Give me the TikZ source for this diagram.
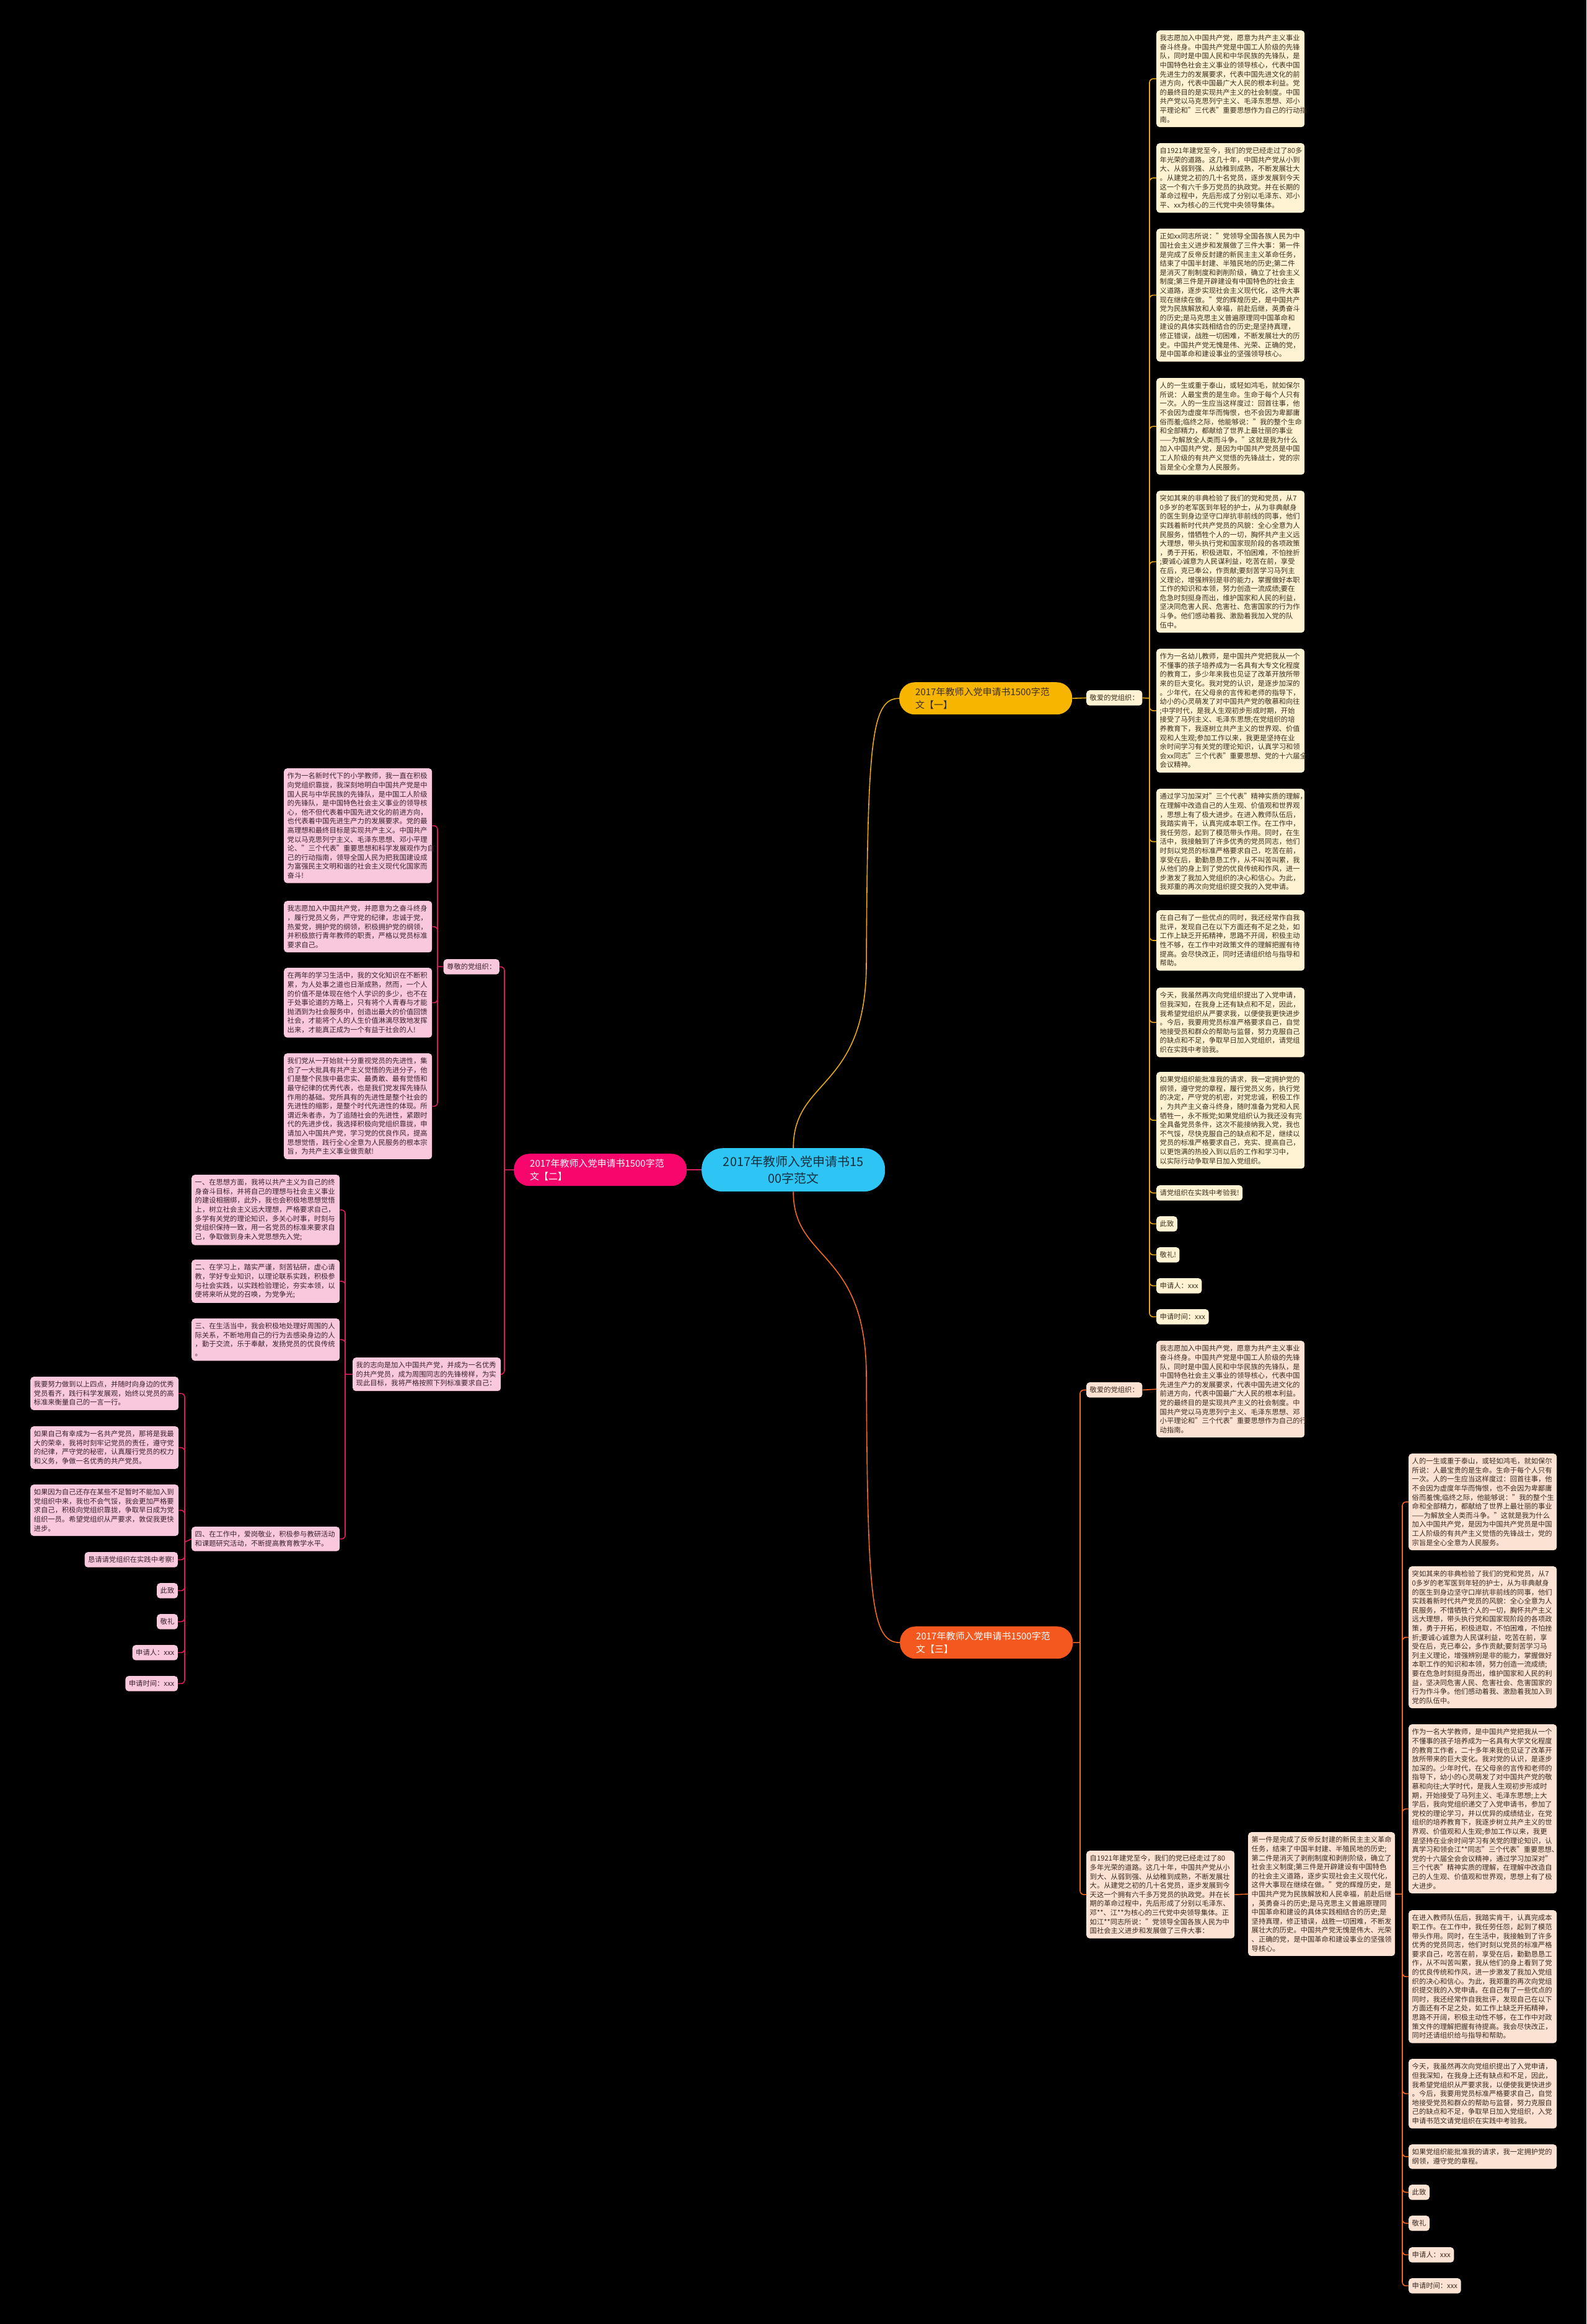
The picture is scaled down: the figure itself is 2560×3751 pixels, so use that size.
\documentclass[tikz,border=0pt]{standalone}
\usepackage{fontspec}
\setmainfont{Noto Sans CJK SC}
\usetikzlibrary{calc}
\definecolor{yfill}{HTML}{F7B500}
\definecolor{yline}{HTML}{E9A912}
\definecolor{cream}{HTML}{FFF3D4}
\definecolor{ytext}{HTML}{3B2F1E}
\definecolor{pfill}{HTML}{F9066C}
\definecolor{pline}{HTML}{D91E5F}
\definecolor{pleaf}{HTML}{F9C8DC}
\definecolor{ptext}{HTML}{3A2230}
\definecolor{ofill}{HTML}{F5581F}
\definecolor{oline}{HTML}{F26A21}
\definecolor{oleaf}{HTML}{FCE2D3}
\definecolor{otext}{HTML}{3B2A22}
\definecolor{cfill}{HTML}{2EC4F4}
\definecolor{ctext}{HTML}{14303F}
\newcommand\leaffont{\fontsize{11.3}{14.6}\selectfont}
\newcommand\pillfont{\fontsize{15}{21}\selectfont}
\newcommand\rootfont{\fontsize{20}{27}\selectfont}
\tikzset{
 leaf/.style={rounded corners=5pt, anchor=north west, inner xsep=5.5pt, inner ysep=7pt, align=left, font=\leaffont},
 leafY/.style={leaf, fill=cream, text=ytext},
 leafP/.style={leaf, fill=pleaf, text=ptext},
 leafO/.style={leaf, fill=oleaf, text=otext},
 pill/.style={rounded corners=25pt, anchor=north west, inner xsep=0pt, inner ysep=0pt, align=left, font=\pillfont, text width=227pt, minimum width=279pt, minimum height=52pt},
 linkY/.style={draw=yline, line width=1.6pt},
 linkP/.style={draw=pline, line width=1.6pt},
 linkO/.style={draw=oline, line width=1.6pt},
 bendY/.style={linkY, rounded corners=6pt},
 bendP/.style={linkP, rounded corners=6pt},
 bendO/.style={linkO, rounded corners=6pt},
}
\begin{document}
\begin{tikzpicture}[x=1pt,y=-1pt]
\fill[black] (0,0) rectangle (2560,3751);
\useasboundingbox (0,0) rectangle (2560,3751);

% ---------------- root ----------------
\node[fill=cfill, rounded corners=34pt, anchor=north west, minimum width=296pt, minimum height=70pt, align=center, text=ctext, font=\rootfont, inner sep=0pt] (root) at (1132,1853) {2017年教师入党申请书15\\00字范文};

% ---------------- branch 1 ----------------
\node[pill, fill=yfill, text=ytext] (p1) at (1451,1101) {2017年教师入党申请书1500字范\\文【一】};
\node[leafY] (l1) at (1753,1114) {敬爱的党组织：};
\coordinate (s1) at (1855,1127);

\node[leafY, text width=228pt] (a1) at (1866,49) {我志愿加入中国共产党，愿意为共产主义事业\\奋斗终身。中国共产党是中国工人阶级的先锋\\队，同时是中国人民和中华民族的先锋队，是\\中国特色社会主义事业的领导核心，代表中国\\先进生力的发展要求，代表中国先进文化的前\\进方向，代表中国最广大人民的根本利益。党\\的最终目的是实现共产主义的社会制度。中国\\共产党以马克思列宁主义、毛泽东思想、邓小\\平理论和"三代表"重要思想作为自己的行动指\\南。};
\node[leafY, text width=228pt] (a2) at (1866,231) {自1921年建党至今，我们的党已经走过了80多\\年光荣的道路。这几十年，中国共产党从小到\\大、从弱到强、从幼稚到成熟，不断发展壮大\\。从建党之初的几十名党员，逐步发展到今天\\这一个有六千多万党员的执政党。并在长期的\\革命过程中，先后形成了分别以毛泽东、邓小\\平、xx为核心的三代党中央领导集体。};
\node[leafY, text width=228pt] (a3) at (1866,369) {正如xx同志所说："党领导全国各族人民为中\\国社会主义进步和发展做了三件大事：第一件\\是完成了反帝反封建的新民主主义革命任务，\\结束了中国半封建、半殖民地的历史;第二件\\是消灭了削制度和剥削阶级，确立了社会主义\\制度;第三件是开辟建设有中国特色的社会主\\义道路，逐步实现社会主义现代化，这件大事\\现在继续在做。"党的辉煌历史，是中国共产\\党为民族解放和人幸福，前赴后继，英勇奋斗\\的历史;是马克思主义普遍原理同中国革命和\\建设的具体实践相结合的历史;是坚持真理，\\修正错误，战胜一切困难，不断发展壮大的历\\史。中国共产党无愧是伟、光荣、正确的党，\\是中国革命和建设事业的坚强领导核心。};
\node[leafY, text width=228pt] (a4) at (1866,610) {人的一生或重于泰山，或轻如鸿毛，就如保尔\\所说：人最宝贵的是生命。生命于每个人只有\\一次。人的一生应当这样度过：回首往事，他\\不会因为虚度年华而悔恨，也不会因为卑鄙庸\\俗而羞;临终之际，他能够说："我的整个生命\\和全部精力，都献给了世界上最壮丽的事业\\——为解放全人类而斗争。"这就是我为什么\\加入中国共产党，是因为中国共产党员是中国\\工人阶级的有共产义觉悟的先锋战士，党的宗\\旨是全心全意为人民服务。};
\node[leafY, text width=228pt] (a5) at (1866,792) {突如其来的非典检验了我们的党和党员，从7\\0多岁的老军医到年轻的护士，从为非典献身\\的医生到身边坚守口岸抗非前线的同事，他们\\实践着新时代共产党员的风貌：全心全意为人\\民服务，惜牺牲个人的一切，胸怀共产主义远\\大理想，带头执行党和国家现阶段的各项政策\\，勇于开拓，积极进取，不怕困难，不怕挫折\\;要诚心诚意为人民谋利益，吃苦在前，享受\\在后，克已奉公，作贡献;要刻苦学习马列主\\义理论，增强辨别是非的能力，掌握做好本职\\工作的知识和本领，努力创造一流成绩;要在\\危急时刻挺身而出，维护国家和人民的利益，\\坚决同危害人民、危害社、危害国家的行为作\\斗争。他们感动着我、激励着我加入党的队\\伍中。};
\node[leafY, text width=228pt] (a6) at (1866,1047) {作为一名幼儿教师，是中国共产党把我从一个\\不懂事的孩子培养成为一名具有大专文化程度\\的教育工，多少年来我也见证了改革开放所带\\来的巨大变化。我对党的认识，是逐步加深的\\。少年代，在父母亲的言传和老师的指导下，\\幼小的心灵萌发了对中国共产党的敬慕和向往\\;中学时代，是我人生观初步形成时期，开始\\接受了马列主义、毛泽东思想;在党组织的培\\养教育下，我逐树立共产主义的世界观、价值\\观和人生观;参加工作以来，我更是坚持在业\\余时间学习有关党的理论知识，认真学习和领\\会xx同志"三个代表"重要思想、党的十六届全\\会议精神。};
\node[leafY, text width=228pt] (a7) at (1866,1273) {通过学习加深对"三个代表"精神实质的理解，\\在理解中改造自己的人生观、价值观和世界观\\，思想上有了极大进步。在进入教师队伍后，\\我踏实肯干，认真完成本职工作。在工作中，\\我任劳怨，起到了模范带头作用。同时，在生\\活中，我接触到了许多优秀的党员同志，他们\\时刻以党员的标准严格要求自己，吃苦在前，\\享受在后，勤勤恳恳工作，从不叫苦叫累，我\\从他们的身上到了党的优良传统和作风，进一\\步激发了我加入党组织的决心和信心。为此，\\我郑重的再次向党组织提交我的入党申请。};
\node[leafY, text width=228pt] (a8) at (1866,1469) {在自己有了一些优点的同时，我还经常作自我\\批评，发现自己在以下方面还有不足之处，如\\工作上缺乏开拓精神，思路不开阔，积极主动\\性不够，在工作中对政策文件的理解把握有待\\提高。会尽快改正，同时还请组织给与指导和\\帮助。};
\node[leafY, text width=228pt] (a9) at (1866,1594) {今天，我虽然再次向党组织提出了入党申请，\\但我深知，在我身上还有缺点和不足，因此，\\我希望党组织从严要求我，以便使我更快进步\\。今后，我要用党员标准严格要求自己，自觉\\地接受员和群众的帮助与监督，努力克服自己\\的缺点和不足，争取早日加入党组织，请党组\\织在实践中考验我。};
\node[leafY, text width=228pt] (a10) at (1866,1730) {如果党组织能批准我的请求，我一定拥护党的\\纲领，遵守党的章程，履行党员义务，执行党\\的决定，严守党的机密，对党忠诚，积极工作\\，为共产主义奋斗终身，随时准备为党和人民\\牺牲一，永不叛党;如果党组织认为我还没有完\\全具备党员条件，这次不能接纳我入党，我也\\不气馁，尽快克服自己的缺点和不足，继续以\\党员的标准严格要求自己，充实、提高自己，\\以更饱满的热投入到以后的工作和学习中，\\以实际行动争取早日加入党组织。};
\node[leafY] (a11) at (1866,1913) {请党组织在实践中考验我!};
\node[leafY] (a12) at (1866,1963) {此致};
\node[leafY] (a13) at (1866,2013) {敬礼!};
\node[leafY] (a14) at (1866,2063) {申请人：xxx};
\node[leafY] (a15) at (1866,2113) {申请时间：xxx};

\draw[linkY] (root.north) .. controls (1280,1740) and (1396,1760) .. (1398,1560) .. controls (1400,1200) and (1405,1127) .. (p1.west);
\draw[linkY] (p1.east) -- (l1.west);
\draw[linkY] (l1.east) -- (s1);
\foreach \n in {a1,a2,a3,a4,a5,a6,a7,a8,a9,a10,a11,a12,a13,a14,a15}
  \draw[bendY] (s1) |- (\n.west);

% ---------------- branch 2 ----------------
\node[pill, fill=pfill, text=white] (p2) at (829,1862) {2017年教师入党申请书1500字范\\文【二】};
\node[leafP, anchor=north east] (l2) at (806,1548) {尊敬的党组织：};
\coordinate (s2) at (814,1888);
\coordinate (s3) at (706,1560);

\node[leafP, text width=228pt] (b1) at (458,1240) {作为一名新时代下的小学教师，我一直在积极\\向党组织靠拢，我深刻地明白中国共产党是中\\国人民与中华民族的先锋队，是中国工人阶级\\的先锋队，是中国特色社会主义事业的领导核\\心，他不但代表着中国先进文化的前进方向，\\也代表着中国先进生产力的发展要求。党的最\\高理想和最终目标是实现共产主义。中国共产\\党以马克思列宁主义、毛泽东思想、邓小平理\\论、"三个代表"重要思想和科学发展观作为自\\己的行动指南，领导全国人民为把我国建设成\\为富强民主文明和谐的社会主义现代化国家而\\奋斗!};
\node[leafP, text width=228pt] (b2) at (458,1454) {我志愿加入中国共产党，并愿意为之奋斗终身\\，履行党员义务，严守党的纪律，忠诚于党，\\热爱党，拥护党的纲领，积极拥护党的纲领，\\并积极旅行青年教师的职责，严格以党员标准\\要求自己。};
\node[leafP, text width=228pt] (b3) at (458,1562) {在两年的学习生活中，我的文化知识在不断积\\累，为人处事之道也日渐成熟，然而，一个人\\的价值不是体现在他个人学识的多少，也不在\\于处事论道的方略上，只有将个人青春与才能\\抛洒到为社会服务中，创造出最大的价值回馈\\社会，才能将个人的人生价值淋漓尽致地发挥\\出来，才能真正成为一个有益于社会的人!};
\node[leafP, text width=228pt] (b4) at (458,1700) {我们党从一开始就十分重视党员的先进性，集\\合了一大批具有共产主义觉悟的先进分子，他\\们是整个民族中最忠实、最勇敢、最有觉悟和\\最守纪律的优秀代表，也是我们党发挥先锋队\\作用的基础。党所具有的先进性是整个社会的\\先进性的缩影，是整个时代先进性的体现。所\\谓近朱者赤，为了追随社会的先进性，紧跟时\\代的先进步伐，我选择积极向党组织靠拢，申\\请加入中国共产党，学习党的优良作风，提高\\思想觉悟，践行全心全意为人民服务的根本宗\\旨，为共产主义事业做贡献!};

\node[leafP, text width=228pt] (g) at (569,2191) {我的志向是加入中国共产党，并成为一名优秀\\的共产党员，成为周围同志的先锋榜样，为实\\现此目标，我将严格按照下列标准要求自己：};
\coordinate (s4) at (557,2218);
\node[leafP, text width=228pt] (c1) at (309,1896) {一、在思想方面，我将以共产主义为自己的终\\身奋斗目标，并将自己的理想与社会主义事业\\的建设相捆绑，此外，我也会积极地思想觉悟\\上，树立社会主义远大理想，严格要求自己，\\多学有关党的理论知识，多关心时事，时刻与\\党组织保持一致，用一名党员的标准来要求自\\己，争取做到身未入党思想先入党;};
\node[leafP, text width=228pt] (c2) at (309,2033) {二、在学习上，踏实严谨，刻苦钻研，虚心请\\教，学好专业知识，以理论联系实践，积极参\\与社会实践，以实践检验理论，夯实本领，以\\便将来听从党的召唤，为党争光;};
\node[leafP, text width=228pt] (c3) at (309,2128) {三、在生活当中，我会积极地处理好周围的人\\际关系，不断地用自己的行为去感染身边的人\\，勤于交流，乐于奉献，发扬党员的优良传统\\。};
\node[leafP, text width=228pt] (c4) at (309,2464) {四、在工作中，爱岗敬业，积极参与教研活动\\和课题研究活动，不断提高教育教学水平。};
\coordinate (s5) at (298,2489);
\node[leafP, text width=228pt] (d1) at (49,2222) {我要努力做到以上四点，并随时向身边的优秀\\党员看齐，践行科学发展观，始终以党员的高\\标准来衡量自己的一言一行。};
\node[leafP, text width=228pt] (d2) at (49,2302) {如果自己有幸成为一名共产党员，那将是我最\\大的荣幸，我将时刻牢记党员的责任，遵守党\\的纪律，严守党的秘密，认真履行党员的权力\\和义务，争做一名优秀的共产党员。};
\node[leafP, text width=228pt] (d3) at (49,2396) {如果因为自己还存在某些不足暂时不能加入到\\党组织中来，我也不会气馁，我会更加严格要\\求自己，积极向党组织靠拢，争取早日成为党\\组织一员。希望党组织从严要求，敦促我更快\\进步。};
\node[leafP, anchor=north east] (d4) at (287,2505) {恳请请党组织在实践中考察!};
\node[leafP, anchor=north east] (d5) at (287,2555) {此致};
\node[leafP, anchor=north east] (d6) at (287,2605) {敬礼};
\node[leafP, anchor=north east] (d7) at (287,2655) {申请人：xxx};
\node[leafP, anchor=north east] (d8) at (287,2705) {申请时间：xxx};

\draw[linkP] (root.west) -- (p2.east);
\draw[linkP] (p2.west) -- (s2);
\draw[bendP] (s2) |- (l2.east);
\draw[bendP] (s2) |- (g.east);
\draw[linkP] (l2.west) -- (s3);
\foreach \n in {b1,b2,b3,b4} \draw[bendP] (s3) |- (\n.east);
\draw[linkP] (g.west) -- (s4);
\foreach \n in {c1,c2,c3,c4} \draw[bendP] (s4) |- (\n.east);
\draw[linkP] (c4.west) -- (s5);
\foreach \n in {d1,d2,d3,d4,d5,d6,d7,d8} \draw[bendP] (s5) |- (\n.east);

% ---------------- branch 3 ----------------
\node[pill, fill=ofill, text=white] (p3) at (1452,2625) {2017年教师入党申请书1500字范\\文【三】};
\coordinate (s6) at (1743,2651);
\node[leafO] (l3) at (1753,2231) {敬爱的党组织：};
\node[leafO, text width=228pt] (e1) at (1866,2164) {我志愿加入中国共产党，愿意为共产主义事业\\奋斗终身。中国共产党是中国工人阶级的先锋\\队，同时是中国人民和中华民族的先锋队，是\\中国特色社会主义事业的领导核心，代表中国\\先进生产力的发展要求，代表中国先进文化的\\前进方向，代表中国最广大人民的根本利益。\\党的最终目的是实现共产主义的社会制度。中\\国共产党以马克思列宁主义、毛泽东思想、邓\\小平理论和"三个代表"重要思想作为自己的行\\动指南。};
\node[leafO, text width=228pt] (e2) at (1753,2987) {自1921年建党至今，我们的党已经走过了80\\多年光荣的道路。这几十年，中国共产党从小\\到大、从弱到强、从幼稚到成熟，不断发展壮\\大。从建党之初的几十名党员，逐步发展到今\\天这一个拥有六千多万党员的执政党。并在长\\期的革命过程中，先后形成了分别以毛泽东、\\邓**、江**为核心的三代党中央领导集体。正\\如江**同志所说："党领导全国各族人民为中\\国社会主义进步和发展做了三件大事：};
\node[leafO, text width=226pt] (e3) at (2014,2957) {第一件是完成了反帝反封建的新民主主义革命\\任务，结束了中国半封建、半殖民地的历史;\\第二件是消灭了剥削制度和剥削阶级，确立了\\社会主义制度;第三件是开辟建设有中国特色\\的社会主义道路，逐步实现社会主义现代化，\\这件大事现在继续在做。"党的辉煌历史，是\\中国共产党为民族解放和人民幸福，前赴后继\\，英勇奋斗的历史;是马克思主义普遍原理同\\中国革命和建设的具体实践相结合的历史;是\\坚持真理，修正错误，战胜一切困难，不断发\\展壮大的历史。中国共产党无愧是伟大、光荣\\、正确的党，是中国革命和建设事业的坚强领\\导核心。};
\coordinate (s7) at (2263,3057);
\node[leafO, text width=228pt] (f1) at (2273,2346) {人的一生或重于泰山，或轻如鸿毛，就如保尔\\所说：人最宝贵的是生命。生命于每个人只有\\一次。人的一生应当这样度过：回首往事，他\\不会因为虚度年华而悔恨，也不会因为卑鄙庸\\俗而羞愧;临终之际，他能够说："我的整个生\\命和全部精力，都献给了世界上最壮丽的事业\\——为解放全人类而斗争。"这就是我为什么\\加入中国共产党，是因为中国共产党员是中国\\工人阶级的有共产主义觉悟的先锋战士，党的\\宗旨是全心全意为人民服务。};
\node[leafO, text width=228pt] (f2) at (2273,2528) {突如其来的非典检验了我们的党和党员，从7\\0多岁的老军医到年轻的护士，从为非典献身\\的医生到身边坚守口岸抗非前线的同事，他们\\实践着新时代共产党员的风貌：全心全意为人\\民服务，不惜牺牲个人的一切，胸怀共产主义\\远大理想，带头执行党和国家现阶段的各项政\\策，勇于开拓，积极进取，不怕困难，不怕挫\\折;要诚心诚意为人民谋利益，吃苦在前，享\\受在后，克已奉公，多作贡献;要刻苦学习马\\列主义理论，增强辨别是非的能力，掌握做好\\本职工作的知识和本领，努力创造一流成绩;\\要在危急时刻挺身而出，维护国家和人民的利\\益，坚决同危害人民、危害社会、危害国家的\\行为作斗争。他们感动着我、激励着我加入到\\党的队伍中。};
\node[leafO, text width=228pt] (f3) at (2273,2783) {作为一名大学教师，是中国共产党把我从一个\\不懂事的孩子培养成为一名具有大学文化程度\\的教育工作者，二十多年来我也见证了改革开\\放所带来的巨大变化。我对党的认识，是逐步\\加深的。少年时代，在父母亲的言传和老师的\\指导下，幼小的心灵萌发了对中国共产党的敬\\慕和向往;大学时代，是我人生观初步形成时\\期，开始接受了马列主义、毛泽东思想;上大\\学后，我向党组织递交了入党申请书，参加了\\党校的理论学习，并以优异的成绩结业，在党\\组织的培养教育下，我逐步树立共产主义的世\\界观、价值观和人生观;参加工作以来，我更\\是坚持在业余时间学习有关党的理论知识，认\\真学习和领会江**同志"三个代表"重要思想、\\党的十六届全会会议精神，通过学习加深对"\\三个代表"精神实质的理解，在理解中改造自\\己的人生观、价值观和世界观，思想上有了极\\大进步。};
\node[leafO, text width=228pt] (f4) at (2273,3083) {在进入教师队伍后，我踏实肯干，认真完成本\\职工作。在工作中，我任劳任怨，起到了模范\\带头作用。同时，在生活中，我接触到了许多\\优秀的党员同志，他们时刻以党员的标准严格\\要求自己，吃苦在前，享受在后，勤勤恳恳工\\作，从不叫苦叫累，我从他们的身上看到了党\\的优良传统和作风，进一步激发了我加入党组\\织的决心和信心。为此，我郑重的再次向党组\\织提交我的入党申请。在自己有了一些优点的\\同时，我还经常作自我批评，发现自己在以下\\方面还有不足之处，如工作上缺乏开拓精神，\\思路不开阔，积极主动性不够，在工作中对政\\策文件的理解把握有待提高。我会尽快改正，\\同时还请组织给与指导和帮助。};
\node[leafO, text width=228pt] (f5) at (2273,3323) {今天，我虽然再次向党组织提出了入党申请，\\但我深知，在我身上还有缺点和不足，因此，\\我希望党组织从严要求我，以便使我更快进步\\。今后，我要用党员标准严格要求自己，自觉\\地接受党员和群众的帮助与监督，努力克服自\\己的缺点和不足，争取早日加入党组织，入党\\申请书范文请党组织在实践中考验我。};
\node[leafO, text width=228pt] (f6) at (2273,3461) {如果党组织能批准我的请求，我一定拥护党的\\纲领，遵守党的章程。};
\node[leafO] (f7) at (2273,3526) {此致};
\node[leafO] (f8) at (2273,3576) {敬礼};
\node[leafO] (f9) at (2273,3627) {申请人：xxx};
\node[leafO] (f10) at (2273,3677) {申请时间：xxx};

\draw[linkO] (root.south) .. controls (1280,2036) and (1396,2016) .. (1398,2216) .. controls (1400,2576) and (1405,2651) .. (p3.west);
\draw[linkO] (p3.east) -- (s6);
\draw[bendO] (s6) |- (l3.west);
\draw[bendO] (s6) |- (e2.west);
\draw[linkO] (l3.east) -- (e1.west);
\draw[linkO] (e2.east) -- (e3.west);
\draw[linkO] (e3.east) -- (s7);
\foreach \n in {f1,f2,f3,f4,f5,f6,f7,f8,f9,f10} \draw[bendO] (s7) |- (\n.west);
\end{tikzpicture}
\end{document}
